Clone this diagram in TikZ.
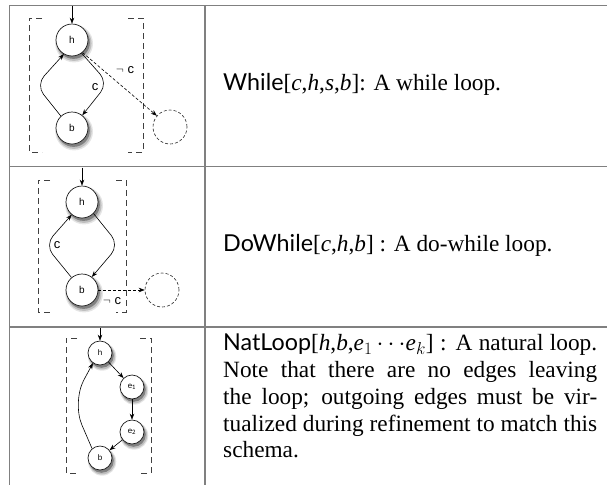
\documentclass[tikz,border=0pt]{standalone}
\usepackage{fontspec}
\setmainfont{Liberation Serif}
\setsansfont{Lato}
\newfontfamily\helv{Liberation Sans}
\usetikzlibrary{arrows.meta,shadows}
\begin{document}
\begin{tikzpicture}[x=1pt,y=-1pt,
  tbl/.style={draw=black!50, line width=1.3pt},
  st/.style={circle, draw=black!90, line width=0.7pt, fill=white, minimum size=32pt, inner sep=0pt,
    font=\helv\fontsize{10}{12}\selectfont,
    general shadow={shadow scale=1.18, shadow xshift=1.8pt, shadow yshift=-3pt, fill=black!10},
    general shadow={shadow scale=1.1, shadow xshift=1.8pt, shadow yshift=-3pt, fill=black!25},
    general shadow={shadow scale=1.02, shadow xshift=1.5pt, shadow yshift=-2.5pt, fill=black!50}},
  sst/.style={st, minimum size=24pt, font=\helv\fontsize{8}{9}\selectfont},
  virt/.style={circle, draw=black!85, dash pattern=on 3pt off 2pt, line width=0.6pt, minimum size=34pt, inner sep=0pt},
  edge/.style={-{Stealth[length=6pt,width=4.5pt]}, line width=0.6pt},
  vedge/.style={edge, dash pattern=on 3pt off 2pt},
  brk/.style={draw=black!75, line width=0.8pt, dash pattern=on 6pt off 4pt},
  elab/.style={font=\helv\fontsize{13}{14}\selectfont, inner sep=0pt},
  desc/.style={anchor=base west, inner sep=0pt, font=\fontsize{23.3}{26.7}\selectfont}
]
\useasboundingbox (0,0) rectangle (608,485);
% table
\draw[tbl] (9.3,5.5) -- (607,5.5);
\draw[tbl] (9.3,166.7) -- (607,166.7);
\draw[tbl] (9.3,327) -- (607,327);
\draw[tbl] (9.3,5.5) -- (9.3,485);
\draw[tbl] (205,5.5) -- (205,485);

% ---------- row 1: While ----------
\draw[brk] (42,18) -- (29,18) -- (29,152) -- (42,152);
\draw[brk] (128,18) -- (143,18) -- (143,152) -- (128,152);
\node[st] (h1) at (72,40) {h};
\node[st] (b1) at (72,128) {b};
\node[virt] (x1) at (170,127) {};
\coordinate (in1) at (72,6);
\coordinate (r1) at (108,83);
\coordinate (l1) at (36,85);
\draw[edge] (in1) -- (h1.north);
\draw[edge, rounded corners=12pt] (h1.-54) -- (r1) -- (b1.51);
\draw[edge, rounded corners=12pt] (b1.133) -- (l1) -- (h1.-120);
\draw[vedge] (h1.-50) -- (x1);
\node[elab] (c1) at (95,87) {c};
\node[elab] (nc1) at (125,70) {$\neg$ c};

% ---------- row 2: DoWhile ----------
\draw[brk] (50,180) -- (38,180) -- (38,312) -- (50,312);
\draw[brk] (116,180) -- (126,180) -- (126,312) -- (116,312);
\node[st] (h2) at (82,202) {h};
\node[st] (b2) at (82,290) {b};
\node[virt] (x2) at (162,290) {};
\coordinate (in2) at (82,167.5);
\coordinate (r2) at (119,245);
\coordinate (l2) at (45,245);
\draw[edge] (in2) -- (h2.north);
\draw[edge, rounded corners=12pt] (h2.-45) -- (r2) -- (b2.53);
\draw[edge, rounded corners=12pt] (b2.130) -- (l2) -- (h2.-129);
\draw[vedge] (b2.east) -- (x2.west);
\node[elab] (c2) at (57,245) {c};
\node[elab] (nc2) at (112,301) {$\neg$ c};

% ---------- row 3: NatLoop ----------
\draw[brk] (77,338) -- (66,338) -- (66,473) -- (77,473);
\draw[brk] (140,338) -- (151,338) -- (151,473) -- (140,473);
\node[sst] (h3) at (100,353) {h};
\node[sst] (e1) at (132,387) {e$_{\mathsf{1}}$};
\node[sst] (e2) at (132,432) {e$_{\mathsf{2}}$};
\node[sst] (b3) at (100,458) {b};
\coordinate (in3) at (100,328);
\coordinate (l3) at (72,402);
\draw[edge] (in3) -- (h3.north);
\draw[edge] (h3) -- (e1);
\draw[edge] (e1) -- (e2);
\draw[edge] (e2) -- (b3);
\draw[edge, rounded corners=25pt] (b3.130) -- (l3) -- (h3.-125);

% ---------- descriptions ----------
\node[desc] (t1) at (223,90.7) {\textsf{While}[\textit{c},\textit{h},\textit{s},\textit{b}]: A while loop.};
\node[desc] (t2) at (223,251.7) {\textsf{DoWhile}[\textit{c},\textit{h},\textit{b}] : A do-while loop.};
\node[anchor=north west, inner sep=0pt, text width=374pt, align=justify,
      font=\fontsize{23.3}{26.7}\selectfont] (t3) at (223,334)
 {\textsf{NatLoop}[\textit{h},\textit{b},\textit{e}$_1\cdots$\textit{e}$_k$] : A natural loop.\linebreak
  Note that there are no edges leaving\linebreak
  the loop; outgoing edges must be vir-\linebreak
  tualized during refinement to match this\linebreak
  schema.};
\end{tikzpicture}
\end{document}
